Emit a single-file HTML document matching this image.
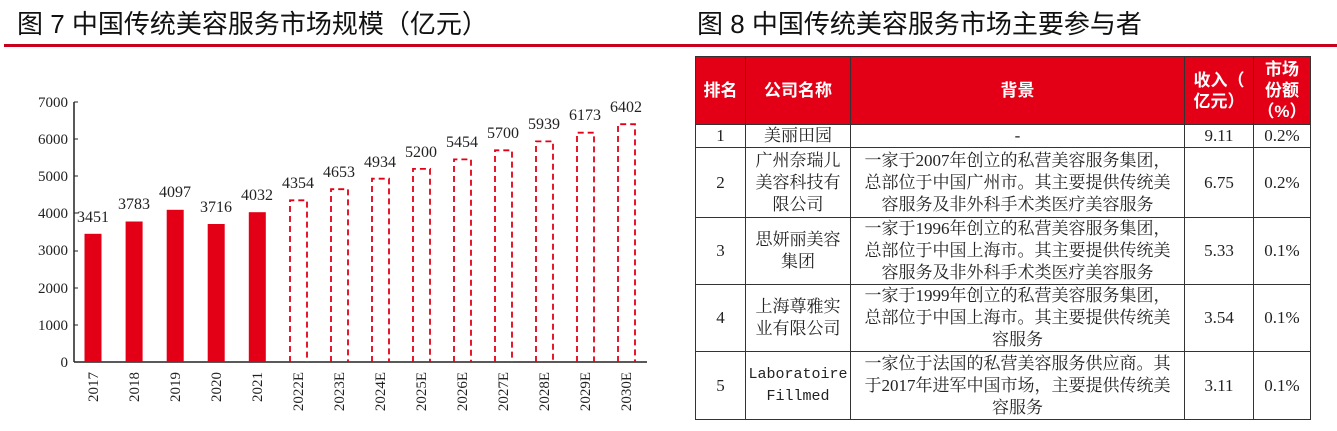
<!DOCTYPE html>
<html><head><meta charset="utf-8"><style>
body{margin:0;width:1337px;height:431px;background:#fff;position:relative;overflow:hidden;font-family:"Liberation Serif","Noto Serif CJK SC",serif;}
.t{position:absolute;top:4px;font-family:"Liberation Sans","Noto Sans CJK SC",sans-serif;font-size:26px;color:#111;white-space:nowrap;}
.rule{position:absolute;height:3px;background:#c8001e;top:44px;}
table{position:absolute;left:695px;top:56px;border-collapse:collapse;table-layout:fixed;font-size:17px;color:#222;}
td{border:1px solid #333;text-align:center;padding:0;line-height:22px;white-space:nowrap;overflow:hidden;}
th{background:#e30016;color:#fff;border:1px solid #333;font-family:"Liberation Sans","Noto Sans CJK SC",sans-serif;font-size:17px;font-weight:bold;line-height:21px;}
</style></head><body>
<div class="t" style="left:17px">图 7 中国传统美容服务市场规模（亿元）</div>
<div class="t" style="left:697px">图 8 中国传统美容服务市场主要参与者</div>
<div class="rule" style="left:4px;width:656px"></div>
<div class="rule" style="left:652px;width:685px"></div>
<svg style="position:absolute;left:0;top:0" width="670" height="431" font-family="Liberation Serif, serif" font-size="15" fill="#222">
<line x1="74" y1="102" x2="74" y2="362" stroke="#222" stroke-width="1.5"/>
<line x1="74" y1="362" x2="647" y2="362" stroke="#222" stroke-width="1.5"/>
<g text-anchor="end">
<text x="68" y="367">0</text><text x="68" y="330">1000</text><text x="68" y="293">2000</text><text x="68" y="255">3000</text><text x="68" y="218">4000</text><text x="68" y="181">5000</text><text x="68" y="144">6000</text><text x="68" y="107">7000</text>
</g>
<g stroke="#222"><line x1="74" y1="102" x2="78" y2="102"/><line x1="74" y1="139" x2="78" y2="139"/><line x1="74" y1="176" x2="78" y2="176"/><line x1="74" y1="213" x2="78" y2="213"/><line x1="74" y1="251" x2="78" y2="251"/><line x1="74" y1="288" x2="78" y2="288"/><line x1="74" y1="325" x2="78" y2="325"/></g>
<g fill="#e30016">
<rect x="84.5" y="233.8" width="17" height="128.2"/>
<rect x="125.6" y="221.5" width="17" height="140.5"/>
<rect x="166.7" y="209.8" width="17" height="152.2"/>
<rect x="207.7" y="224" width="17" height="138"/>
<rect x="248.8" y="212.2" width="17" height="149.8"/>
</g>
<g fill="none" stroke="#e30016" stroke-width="1.8" stroke-dasharray="6,4">
<path d="M290 362V200.3H307V362"/>
<path d="M331 362V189.2H348V362"/>
<path d="M372 362V178.7H389V362"/>
<path d="M413 362V168.9H430V362"/>
<path d="M454 362V159.4H471V362"/>
<path d="M495 362V150.3H512V362"/>
<path d="M536 362V141.4H553V362"/>
<path d="M577 362V132.7H594V362"/>
<path d="M618 362V124.2H635V362"/>
</g>
<g text-anchor="middle" font-size="16">
<text x="93" y="222">3451</text><text x="134" y="209">3783</text><text x="175" y="197">4097</text><text x="216" y="212">3716</text><text x="257" y="200">4032</text>
<text x="298" y="188">4354</text><text x="339" y="177">4653</text><text x="380" y="167">4934</text><text x="421" y="157">5200</text><text x="462" y="147">5454</text><text x="503" y="138">5700</text><text x="544" y="129">5939</text><text x="585" y="120">6173</text><text x="626" y="112">6402</text>
</g>
<g text-anchor="end" font-size="15">
<text transform="translate(98,372) rotate(-90)">2017</text>
<text transform="translate(139,372) rotate(-90)">2018</text>
<text transform="translate(180,372) rotate(-90)">2019</text>
<text transform="translate(221,372) rotate(-90)">2020</text>
<text transform="translate(262,372) rotate(-90)">2021</text>
<text transform="translate(303,372) rotate(-90)">2022E</text>
<text transform="translate(344,372) rotate(-90)">2023E</text>
<text transform="translate(385,372) rotate(-90)">2024E</text>
<text transform="translate(426,372) rotate(-90)">2025E</text>
<text transform="translate(467,372) rotate(-90)">2026E</text>
<text transform="translate(508,372) rotate(-90)">2027E</text>
<text transform="translate(549,372) rotate(-90)">2028E</text>
<text transform="translate(590,372) rotate(-90)">2029E</text>
<text transform="translate(631,372) rotate(-90)">2030E</text>
</g>
</svg>
<table>
<colgroup><col style="width:50px"><col style="width:105px"><col style="width:334px"><col style="width:69px"><col style="width:57px"></colgroup>
<tr style="height:68px"><th>排名</th><th>公司名称</th><th>背景</th><th>收入（<br>亿元）</th><th>市场<br>份额<br>（%）</th></tr>
<tr style="height:22px"><td>1</td><td>美丽田园</td><td>-</td><td>9.11</td><td>0.2%</td></tr>
<tr style="height:70px"><td>2</td><td>广州奈瑞儿<br>美容科技有<br>限公司</td><td>一家于2007年创立的私营美容服务集团，<br>总部位于中国广州市。其主要提供传统美<br>容服务及非外科手术类医疗美容服务</td><td>6.75</td><td>0.2%</td></tr>
<tr style="height:67px"><td>3</td><td>思妍丽美容<br>集团</td><td>一家于1996年创立的私营美容服务集团，<br>总部位于中国上海市。其主要提供传统美<br>容服务及非外科手术类医疗美容服务</td><td>5.33</td><td>0.1%</td></tr>
<tr style="height:67px"><td>4</td><td>上海尊雅实<br>业有限公司</td><td>一家于1999年创立的私营美容服务集团，<br>总部位于中国上海市。其主要提供传统美<br>容服务</td><td>3.54</td><td>0.1%</td></tr>
<tr style="height:68px"><td>5</td><td style="font-family:'Liberation Mono',monospace;font-size:15px">Laboratoire<br>Fillmed</td><td>一家位于法国的私营美容服务供应商。其<br>于2017年进军中国市场，主要提供传统美<br>容服务</td><td>3.11</td><td>0.1%</td></tr>
</table>
</body></html>
